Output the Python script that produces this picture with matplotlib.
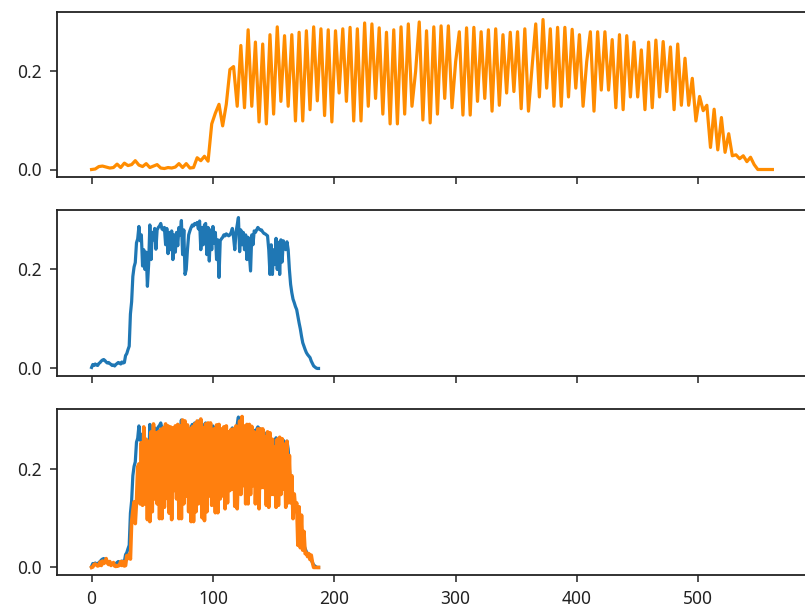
import matplotlib
matplotlib.use("Agg")
import matplotlib.pyplot as plt
import numpy as np

plt.rcParams['font.family'] = ['Noto Sans', 'DejaVu Sans']

# Orange (original-rate) series, 188 samples
orange_low = [0.000, 0.001, 0.006, 0.007, 0.005, 0.003, 0.004, 0.011, 0.004, 0.013,
              0.008, 0.010, 0.018, 0.009, 0.006, 0.012, 0.004, 0.007, 0.010, 0.003,
              0.002, 0.004, 0.003, 0.005, 0.012, 0.004, 0.012, 0.003, 0.004, 0.024,
              0.018, 0.027, 0.017]
orange_rise = [0.093, 0.115, 0.133, 0.089, 0.133, 0.204, 0.210, 0.129, 0.253, 0.126,
               0.285, 0.129, 0.260, 0.097, 0.256, 0.093, 0.275, 0.113, 0.291, 0.139,
               0.273, 0.129, 0.275, 0.099, 0.280, 0.099, 0.283, 0.122, 0.291, 0.140,
               0.287, 0.110, 0.285, 0.097, 0.283, 0.156]
orange_mid1 = [0.287, 0.139, 0.290, 0.099, 0.287, 0.099, 0.299, 0.129, 0.297, 0.145,
               0.289, 0.113, 0.280, 0.093, 0.285, 0.093, 0.291, 0.113, 0.297,
               0.129, 0.200, 0.301, 0.101, 0.283, 0.095, 0.291, 0.113, 0.293, 0.145,
               0.293, 0.126, 0.220, 0.281, 0.111, 0.289, 0.111, 0.290, 0.139, 0.281,
               0.145]
orange_mid2 = [0.285, 0.119, 0.287, 0.131, 0.275, 0.156, 0.280, 0.159, 0.281, 0.124,
               0.287, 0.119, 0.210, 0.297, 0.148, 0.306, 0.166, 0.287, 0.129, 0.290,
               0.129, 0.290, 0.148, 0.286, 0.166, 0.275, 0.129, 0.220, 0.281, 0.119,
               0.281, 0.162, 0.281, 0.162, 0.265, 0.126, 0.275, 0.122, 0.273, 0.148]
orange_fall = [0.260, 0.148, 0.244, 0.122, 0.260, 0.126, 0.264, 0.148, 0.261, 0.159,
               0.250, 0.122, 0.256, 0.131, 0.227, 0.131, 0.186, 0.099, 0.149, 0.120,
               0.131, 0.045, 0.123, 0.040, 0.106, 0.035, 0.073, 0.028, 0.030, 0.022,
               0.028, 0.016, 0.025, 0.010, 0.000, 0.000, 0.000, 0.000, 0.000]
orange_values = orange_low + orange_rise + orange_mid1 + orange_mid2 + orange_fall

# Blue series, 188 samples
blue_values = [
    0.002, 0.008, 0.006, 0.009, 0.007, 0.006, 0.010, 0.012, 0.015, 0.017,
    0.018, 0.016, 0.013, 0.011, 0.012, 0.010, 0.008, 0.006, 0.007, 0.005,
    0.008, 0.010, 0.012, 0.011, 0.009, 0.013, 0.011, 0.012, 0.026, 0.030,
    0.038, 0.045, 0.110, 0.135, 0.186, 0.205, 0.214, 0.254, 0.262, 0.287,
    0.258, 0.270, 0.207, 0.240, 0.200, 0.235, 0.166, 0.210, 0.290, 0.220,
    0.275, 0.260, 0.283, 0.241, 0.280, 0.285, 0.288, 0.293, 0.282, 0.280,
    0.285, 0.250, 0.283, 0.232, 0.275, 0.240, 0.278, 0.220, 0.270, 0.235,
    0.275, 0.248, 0.285, 0.270, 0.299, 0.230, 0.280, 0.190, 0.200, 0.240,
    0.270, 0.278, 0.285, 0.290, 0.288, 0.293, 0.291, 0.295, 0.282, 0.298,
    0.240, 0.285, 0.250, 0.290, 0.293, 0.230, 0.285, 0.217, 0.280, 0.240,
    0.287, 0.253, 0.275, 0.220, 0.260, 0.184, 0.258, 0.262, 0.265, 0.270,
    0.268, 0.272, 0.270, 0.268, 0.270, 0.275, 0.283, 0.265, 0.240, 0.275,
    0.290, 0.305, 0.236, 0.280, 0.250, 0.275, 0.240, 0.270, 0.220, 0.265,
    0.230, 0.197, 0.270, 0.250, 0.278, 0.275, 0.280, 0.285, 0.282, 0.280,
    0.280, 0.276, 0.273, 0.272, 0.270, 0.268, 0.240, 0.190, 0.250, 0.190,
    0.240, 0.210, 0.263, 0.200, 0.255, 0.190, 0.260, 0.215, 0.258, 0.250,
    0.240, 0.256, 0.240, 0.200, 0.170, 0.153, 0.140, 0.133, 0.125, 0.119,
    0.105, 0.092, 0.080, 0.065, 0.052, 0.045, 0.038, 0.032, 0.028, 0.025,
    0.022, 0.015, 0.010, 0.005, 0.003, 0.001, 0.000, 0.000]

upsample_factor = 3
xticks = [0, 100, 200, 300, 400, 500]
yticks = [0.0, 0.2]

W, H = 805, 611
fig = plt.figure(figsize=(W / 100, H / 100), dpi=100)

def box(top_px, bottom_px):
    left = 57 / W
    width = 753 / W
    return [left, (H - bottom_px) / H, width, (bottom_px - top_px) / H]

ax1 = fig.add_axes(box(12, 177))
ax2 = fig.add_axes(box(210, 376), sharex=ax1)
ax3 = fig.add_axes(box(409, 575), sharex=ax1)

LW = 2.3
n = len(orange_values)
idx = np.arange(n)
ax1.plot(idx * upsample_factor, orange_values, color='darkorange', lw=LW)
ax2.plot(np.arange(len(blue_values)), blue_values, color='#1f77b4', lw=LW)
ax3.plot(np.arange(len(blue_values)), blue_values, color='#1f77b4', lw=LW)
ax3.plot(idx, orange_values, color='#ff7f0e', lw=LW + 0.3)

for ax in (ax1, ax2, ax3):
    ax.set_yticks(yticks)
    ax.set_yticklabels([f"{v:.1f}" for v in yticks])
    ax.tick_params(labelsize=12.5, length=5, width=1.1, pad=6, colors='#222222')
    for s in ax.spines.values():
        s.set_linewidth(1.3)
        s.set_color('#222222')
ax1.set_xlim(-28.5, 592)
ax1.set_xticks(xticks)
ax1.tick_params(labelbottom=False)
ax2.tick_params(labelbottom=False)
ax3.set_xticklabels([str(v) for v in xticks])

fig.savefig("out.png", dpi=100)
